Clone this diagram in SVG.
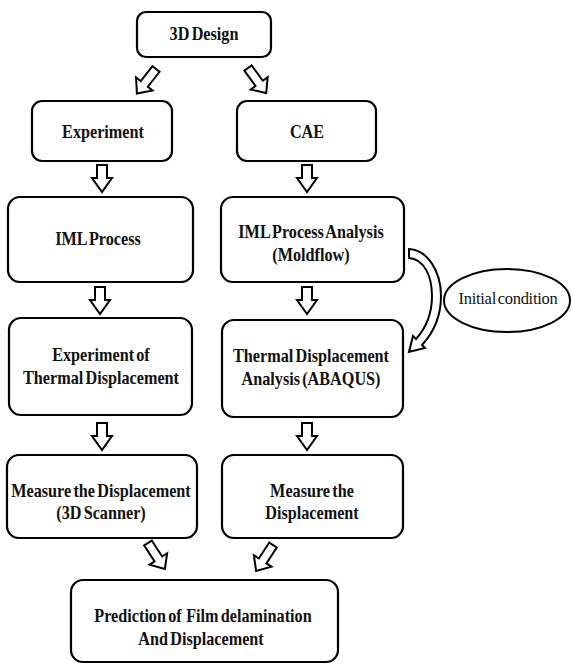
<svg xmlns="http://www.w3.org/2000/svg" width="572" height="664" viewBox="0 0 572 664">
<style>
.box{fill:#fff;stroke:#000;stroke-width:2.2}
.t{font-family:'Liberation Serif','Times New Roman',serif;font-weight:bold;font-size:18px;word-spacing:-2px;fill:#111;text-anchor:middle}
.r{font-family:'Liberation Serif','Times New Roman',serif;font-size:16.5px;letter-spacing:-0.3px;word-spacing:-2px;fill:#111;text-anchor:middle}
.arr{fill:#fff;stroke:#000;stroke-width:2;stroke-linejoin:miter}
</style>
<defs>
<path id="dn" class="arr" d="M -5 0 H 5 V 13 H 10 L 0 27 L -10 13 H -5 Z"/>
<path id="dg" class="arr" d="M -4.5 0 H 4.5 V 19 H 10.5 L 0 31 L -10.5 19 H -4.5 Z"/>
</defs>
<rect width="572" height="664" fill="#fff"/>
<g id="design"><rect class="box" x="137" y="12" width="134" height="45" rx="9"/><text class="t" transform="scale(0.9,1)" x="226.67" y="40">3D Design</text></g>
<g id="experiment"><rect class="box" x="32" y="101" width="140" height="60" rx="10"/><text class="t" transform="scale(0.9,1)" x="114.44" y="138">Experiment</text></g>
<g id="cae"><rect class="box" x="237" y="101" width="139" height="60" rx="10"/><text class="t" transform="scale(0.9,1)" x="341.11" y="138">CAE</text></g>
<g id="iml"><rect class="box" x="8" y="197" width="185" height="85" rx="12"/><text class="t" transform="scale(0.9,1)" x="108.89" y="245">IML Process</text></g>
<g id="imla"><rect class="box" x="221" y="197" width="183" height="85" rx="12"/><text class="t" transform="scale(0.9,1)" x="345.56" y="238">IML Process Analysis</text><text class="t" transform="scale(0.9,1)" x="345.56" y="261">(Moldflow)</text></g>
<g id="expthermal"><rect class="box" x="9" y="318" width="183" height="97" rx="12"/><text class="t" transform="scale(0.9,1)" x="112.22" y="361">Experiment of</text><text class="t" transform="scale(0.9,1)" x="112.22" y="384">Thermal Displacement</text></g>
<g id="thermal"><rect class="box" x="222" y="320" width="181" height="97" rx="12"/><text class="t" transform="scale(0.9,1)" x="345.56" y="362">Thermal Displacement</text><text class="t" transform="scale(0.9,1)" x="345.56" y="385">Analysis (ABAQUS)</text></g>
<g id="measure1"><rect class="box" x="7" y="455" width="190" height="83" rx="12"/><text class="t" transform="scale(0.9,1)" x="112.22" y="497">Measure the Displacement</text><text class="t" transform="scale(0.9,1)" x="112.22" y="519">(3D Scanner)</text></g>
<g id="measure2"><rect class="box" x="222" y="455" width="181" height="83" rx="12"/><text class="t" transform="scale(0.9,1)" x="346.67" y="497">Measure the</text><text class="t" transform="scale(0.9,1)" x="346.67" y="519">Displacement</text></g>
<g id="prediction"><rect class="box" x="71" y="580" width="267" height="82" rx="12"/><text class="t" transform="scale(0.9,1)" x="225.56" y="622">Prediction of&#160; Film delamination</text><text class="t" transform="scale(0.9,1)" x="223.33" y="645">And Displacement</text></g>
<g id="initial"><ellipse cx="507" cy="300.5" rx="63" ry="31.5" fill="#fff" stroke="#000" stroke-width="2"/><text class="r" x="508" y="304">Initial condition</text></g>
<g id="connectors">
<use href="#dg" transform="translate(156,69) rotate(38)"/>
<use href="#dg" transform="translate(248,68) rotate(-36)"/>
<use href="#dn" x="102" y="165"/>
<use href="#dn" x="307" y="165"/>
<use href="#dn" x="100" y="287"/>
<use href="#dn" x="307" y="287"/>
<use href="#dn" x="102" y="423"/>
<use href="#dn" x="307" y="423"/>
<use href="#dg" transform="translate(148,543) rotate(-33)"/>
<use href="#dg" transform="translate(273,545) rotate(33)"/>
<path class="arr" d="M 409 249 C 428 250 441 272 441 296 C 441 316 434 332 422 345 L 425 348 L 409 352 L 413 336 L 416 339 C 426 328 432 314 432 296 C 432 276 424 259 409 258 Z"/>
</g>
</svg>
